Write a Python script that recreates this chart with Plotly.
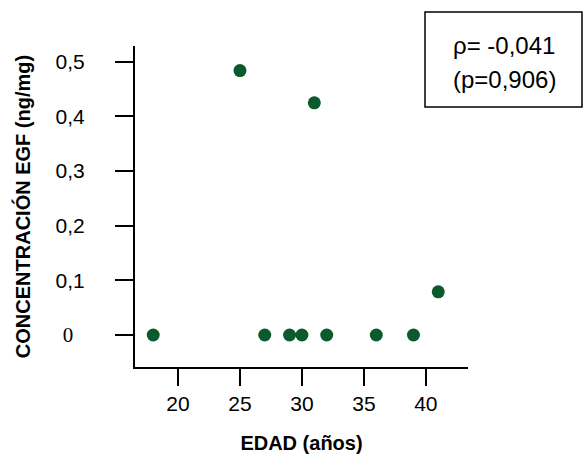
import plotly.graph_objects as go

edad = [18, 25, 27, 29, 30, 31, 32, 36, 39, 41]
egf = [0.0, 0.484, 0.0, 0.0, 0.0, 0.425, 0.0, 0.0, 0.0, 0.079]

x_tickvals = [20, 25, 30, 35, 40]
x_ticktext = ["20", "25", "30", "35", "40"]
y_tickvals = [0, 0.1, 0.2, 0.3, 0.4, 0.5]
y_ticktext = ["<span style=\"font-family:'Liberation Serif',serif\">0</span>\u00a0\u00a0", "0,1", "0,2", "0,3", "0,4", "0,5"]

stat_lines = ["ρ= -0,041", "(p=0,906)"]

W, H = 583, 454
L, R, T, B = 135, 583 - 468, 46, 454 - 367
pw, ph = W - L - R, H - T - B

def px_x(x):
    return (x - L) / pw

def px_y(y):
    return (H - B - y) / ph

fig = go.Figure()
fig.add_trace(go.Scatter(
    x=edad, y=egf, mode="markers",
    marker=dict(size=13, color="#0b5a2d"),
    showlegend=False, cliponaxis=False,
))

font_main = "Liberation Sans, Arial, sans-serif"

fig.update_layout(
    width=W, height=H,
    margin=dict(l=L, r=R, t=T, b=B, autoexpand=False),
    paper_bgcolor="white", plot_bgcolor="white",
    font=dict(family=font_main, color="black"),
    xaxis=dict(
        range=[16.53, 43.4], showgrid=False, zeroline=False, automargin=False,
        showline=True, linecolor="black", linewidth=2,
        ticks="outside", ticklen=17, tickwidth=2, tickcolor="black",
        tickvals=x_tickvals, ticktext=x_ticktext,
        tickfont=dict(size=21, family=font_main),
        title=dict(text="<b>EDAD (años)</b>", font=dict(size=20, family=font_main), standoff=22),
    ),
    yaxis=dict(
        range=[-0.0586, 0.529], showgrid=False, zeroline=False, automargin=False,
        showline=True, linecolor="black", linewidth=2,
        ticks="outside", ticklen=18, tickwidth=2, tickcolor="black",
        tickvals=y_tickvals, ticktext=y_ticktext,
        tickfont=dict(size=21, family=font_main),
        ticklabelstandoff=26,
        title=dict(text="<b>CONCENTRACIÓN EGF (ng/mg)</b>", font=dict(size=20, family=font_main), standoff=20),
    ),
)

# statistics box
fig.add_shape(type="rect", xref="paper", yref="paper",
              x0=px_x(425), x1=px_x(582), y0=px_y(107), y1=px_y(12),
              line=dict(color="black", width=1.5), fillcolor="white")
fig.add_annotation(xref="paper", yref="paper", x=px_x(504), y=px_y(45),
                   text=stat_lines[0], showarrow=False,
                   font=dict(size=24, family=font_main), xanchor="center", yanchor="middle")
fig.add_annotation(xref="paper", yref="paper", x=px_x(504), y=px_y(79),
                   text=stat_lines[1], showarrow=False,
                   font=dict(size=24, family=font_main), xanchor="center", yanchor="middle")

fig.write_html("out.html")
